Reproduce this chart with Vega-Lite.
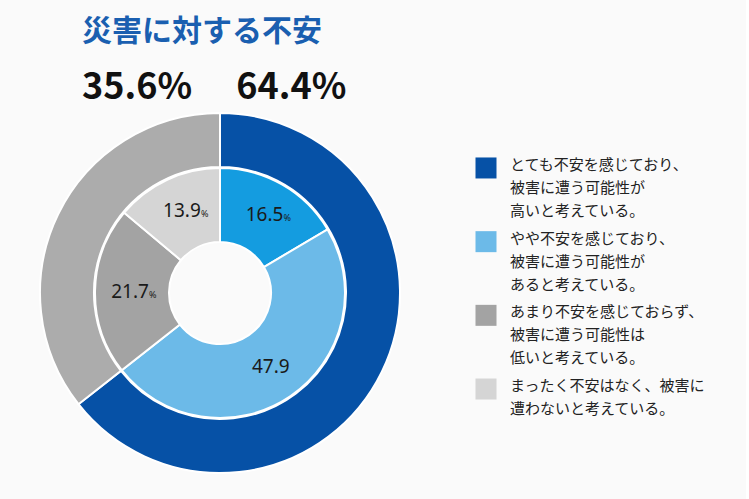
{
  "$schema": "https://vega.github.io/schema/vega-lite/v6.json",
  "background": "#fafafa",
  "padding": {"left": 36, "top": 17, "right": 40, "bottom": 30},
  "config": {"view": {"stroke": null}, "font": "Noto Sans CJK JP"},
  "title": {
    "text": "災害に対する不安",
    "subtitle": "35.6%\u3000  64.4%",
    "anchor": "start",
    "dx": 46,
    "font": "Noto Sans CJK JP",
    "fontSize": 30,
    "fontWeight": "bold",
    "color": "#1a5fb0",
    "subtitleFont": "Noto Sans CJK JP",
    "subtitleFontSize": 36,
    "subtitleFontWeight": "bold",
    "subtitleColor": "#111111",
    "subtitlePadding": 24,
    "offset": 3
  },
  "datasets": {
    "rings": [
      {"ring": "outer", "seg": "out1", "idx": 1, "value": 64.4, "unit": ""},
      {"ring": "outer", "seg": "out2", "idx": 2, "value": 35.6, "unit": ""},
      {"ring": "inner", "seg": "in1", "idx": 1, "value": 16.5, "unit": "%"},
      {"ring": "inner", "seg": "in2", "idx": 2, "value": 47.9, "unit": ""},
      {"ring": "inner", "seg": "in3", "idx": 3, "value": 21.7, "unit": "%"},
      {"ring": "inner", "seg": "in4", "idx": 4, "value": 13.9, "unit": "%"}
    ],
    "legend": [
      {"key": "k1", "label": "とても不安を感じており、\n被害に遭う可能性が\n高いと考えている。"},
      {"key": "k2", "label": "やや不安を感じており、\n被害に遭う可能性が\nあると考えている。"},
      {"key": "k3", "label": "あまり不安を感じておらず、\n被害に遭う可能性は\n低いと考えている。"},
      {"key": "k4", "label": "まったく不安はなく、被害に\n遭わないと考えている。"}
    ]
  },
  "resolve": {"scale": {"color": "independent"}},
  "spacing": 71,
  "hconcat": [
    {
      "width": 360,
      "height": 360,
      "data": {"name": "rings"},
      "encoding": {
        "theta": {"field": "value", "type": "quantitative", "stack": true},
        "order": {"field": "idx", "type": "quantitative"},
        "color": {
          "field": "seg",
          "type": "nominal",
          "scale": {
            "domain": ["out1", "out2", "in1", "in2", "in3", "in4"],
            "range": ["#0651a6", "#acacac", "#149ce0", "#6cbae8", "#a3a3a3", "#d5d5d5"]
          },
          "legend": null
        }
      },
      "layer": [
        {
          "transform": [{"filter": "datum.ring == 'outer'"}],
          "mark": {"type": "arc", "innerRadius": 126, "outerRadius": 180, "stroke": "#ffffff", "strokeWidth": 2}
        },
        {
          "transform": [{"filter": "datum.ring == 'inner'"}],
          "mark": {"type": "arc", "innerRadius": 51, "outerRadius": 125, "stroke": "#ffffff", "strokeWidth": 2}
        },
        {
          "transform": [{"filter": "datum.ring == 'inner'"}],
          "mark": {"type": "text", "radius": 90, "fontSize": 19, "font": "Noto Sans"},
          "encoding": {
            "text": {"field": "value", "type": "quantitative", "format": ".1f"},
            "color": {"value": "#1a1a1a"}
          }
        },
        {
          "transform": [{"filter": "datum.ring == 'inner'"}],
          "mark": {"type": "text", "radius": 90, "fontSize": 9, "align": "left", "dx": 19, "dy": 3, "font": "Noto Sans"},
          "encoding": {
            "text": {"field": "unit"},
            "color": {"value": "#1a1a1a"}
          }
        }
      ]
    },
    {
      "width": 20,
      "height": 331,
      "data": {"name": "legend"},
      "encoding": {
        "y": {"field": "key", "type": "nominal", "axis": null, "scale": {"type": "point", "padding": 0.746}}
      },
      "layer": [
        {
          "mark": {"type": "square", "size": 441, "filled": true, "opacity": 1},
          "encoding": {
            "color": {
              "field": "key",
              "type": "nominal",
              "scale": {"domain": ["k1", "k2", "k3", "k4"], "range": ["#0651a6", "#6cbae8", "#a3a3a3", "#d5d5d5"]},
              "legend": null
            }
          }
        },
        {
          "mark": {"type": "text", "align": "left", "baseline": "top", "dx": 24, "dy": -10, "fontSize": 15, "lineHeight": 23, "lineBreak": "\n", "color": "#222222"},
          "encoding": {"text": {"field": "label"}}
        }
      ]
    }
  ]
}
